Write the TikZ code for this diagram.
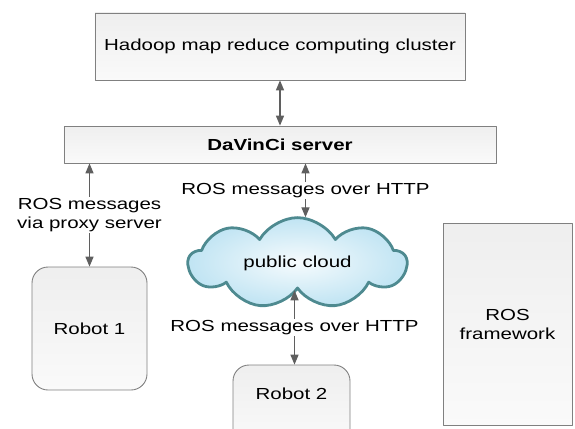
\documentclass[tikz,border=0pt]{standalone}
\usepackage{fontspec}
\setmainfont[FakeStretch=1.28]{Liberation Sans}
\usetikzlibrary{arrows}
\usetikzlibrary{shapes.symbols}

\definecolor{boxline}{RGB}{128,128,128}
\definecolor{arrowgray}{RGB}{95,95,95}
\definecolor{cloudline}{RGB}{78,138,144}
\definecolor{cloudin}{RGB}{246,251,253}
\definecolor{cloudout}{RGB}{192,228,243}

\tikzset{
  box/.style={draw=boxline, line width=0.9bp, top color=gray!13, bottom color=gray!4, inner sep=0pt},
  robot/.style={box, rounded corners=16bp},
  conn/.style={<->, draw=arrowgray, line width=1.3bp},
  lbl/.style={fill=white, inner sep=1.5bp, align=center},
}

\begin{document}
\begin{tikzpicture}[line cap=round,line join=round,>=triangle 45,x=1bp,y=1bp,font=\fontsize{16bp}{19bp}\selectfont]
\useasboundingbox (0,0) rectangle (575,428);
\clip (0,0) rectangle (575,428);
%\draw [help lines] (0,0) grid[step=50] (575,428);
\node [box, minimum width=370bp, minimum height=67bp] (hadoop) at (280,381.5) {Hadoop map reduce computing cluster};
\node [box, minimum width=432bp, minimum height=37bp, font=\fontsize{16bp}{19bp}\selectfont\bfseries] (davinci) at (280,283.5) {DaVinCi server};
\node [robot, minimum width=115bp, minimum height=123bp] (robot1) at (89.5,99.5) {Robot 1};
\node [robot, minimum width=117bp, minimum height=80bp] (robot2) at (291.5,23) {};
\node at (291.5,34.5) (robot2txt) {Robot 2};
\node [box, minimum width=129bp, minimum height=202bp, align=center] (rosfw) at (507.5,104) {ROS\\framework};
\node [cloud, cloud puffs=9, cloud puff arc=120, aspect=2.6, draw=cloudline, line width=2.8bp,
       inner color=cloudin, outer color=cloudout, minimum width=218bp, minimum height=84bp] (cloud) at (297.5,165) {public cloud};
% connectors
\draw [conn] (hadoop.south) -- (davinci.north);
\draw [conn] (robot1.north |- davinci.south) -- node[lbl] {ROS messages\\via proxy server} (robot1.north);
\draw [conn] ([xshift=8bp]cloud.north |- davinci.south) -- node[lbl] {ROS messages over HTTP} ([xshift=8bp,yshift=-1bp]cloud.north);
\draw [conn] ([xshift=3bp]robot2.north |- cloud.south) -- node[lbl] {ROS messages over HTTP} ([xshift=3bp]robot2.north);
\end{tikzpicture}
\end{document}
